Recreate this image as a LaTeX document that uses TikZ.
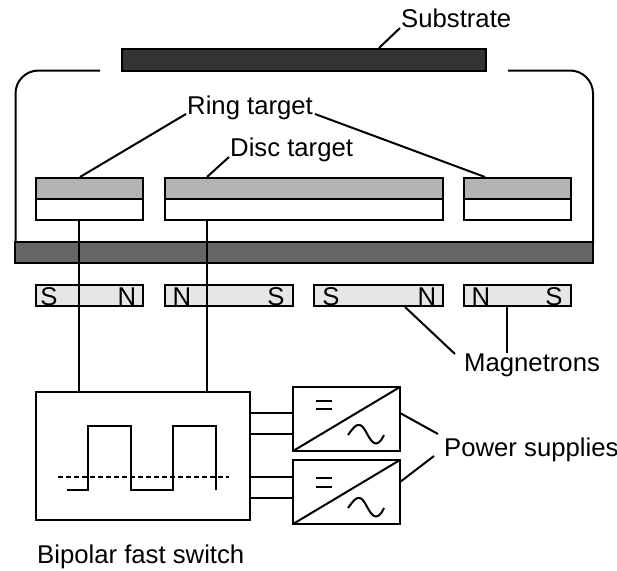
\documentclass[tikz,border=0pt]{standalone}
\usepackage{fontspec}
\setmainfont{Liberation Sans}
\definecolor{subst}{HTML}{333333}
\definecolor{basec}{HTML}{666666}
\definecolor{targ}{HTML}{B3B3B3}
\definecolor{magc}{HTML}{E6E6E6}
\tikzset{
 x=1pt,y=-1pt,
 line/.style={draw=black,line width=2pt},
 thin line/.style={draw=black,line width=2pt},
 box/.style={draw=black,line width=2pt,minimum height=0pt,inner sep=0pt,outer sep=0pt,rectangle},
 lbl/.style={font=\fontsize{25.7}{28}\selectfont,inner sep=0pt,anchor=base west,text=black},
 pole/.style={font=\fontsize{25.7}{28}\selectfont,inner sep=0pt,anchor=base,text=black},
}
\newcommand{\bx}[6]{\node[box,fill=#6,minimum width=#3-#2,minimum height=#5-#4] (#1) at ({(#2+#3)/2},{(#4+#5)/2}) {};}
\begin{document}
\begin{tikzpicture}
\useasboundingbox (0,0) rectangle (617,570);
% chamber
\coordinate (cl) at (100,70.5);
\coordinate (cr) at (508,70.5);
\coordinate (bl) at (15.5,242);
\coordinate (br) at (593,242);
\draw[thin line,rounded corners=23pt] (cl) -- (15.5,70.5) -- (bl);
\draw[thin line,rounded corners=23pt] (cr) -- (593,70.5) -- (br);
% substrate and base
\bx{substrate}{122}{486}{49}{71}{subst}
\bx{base}{15}{593}{242}{263}{basec}
% targets
\bx{t1top}{36}{143}{178}{198.5}{targ}
\bx{t1bot}{36}{143}{198.5}{220}{white}
\bx{t2top}{165}{443}{178}{198.5}{targ}
\bx{t2bot}{165}{443}{198.5}{220}{white}
\bx{t3top}{464}{571}{178}{198.5}{targ}
\bx{t3bot}{464}{571}{198.5}{220}{white}
% magnets
\bx{m1}{36}{143}{284.5}{306}{magc}
\bx{m2}{165}{293}{284.5}{306}{magc}
\bx{m3}{314}{443}{284.5}{306}{magc}
\bx{m4}{464}{571}{284.5}{306}{magc}
% poles
\node[pole] (m1s) at (49,305) {S};
\node[pole] (m1n) at (127,305) {N};
\node[pole] (m2n) at (182,305) {N};
\node[pole] (m2s) at (276,305) {S};
\node[pole] (m3s) at (331,305) {S};
\node[pole] (m3n) at (427,305) {N};
\node[pole] (m4n) at (481,305) {N};
\node[pole] (m4s) at (554,305) {S};
% switch and supplies
\bx{switch}{36}{250}{391.5}{520}{white}
\bx{ps1}{293}{400}{387}{451}{white}
\bx{ps2}{293}{400}{460}{524}{white}
% wires
\draw[thin line] (t1bot.south -| 79,0) -- (switch.north -| 79,0);
\draw[thin line] (t2bot.south -| 207.3,0) -- (switch.north -| 207.3,0);
\draw[thin line] (switch.east |- 0,413) -- (ps1.west |- 0,413);
\draw[thin line] (switch.east |- 0,434) -- (ps1.west |- 0,434);
\draw[thin line] (switch.east |- 0,477) -- (ps2.west |- 0,477);
\draw[thin line] (switch.east |- 0,498) -- (ps2.west |- 0,498);
% supply diagonals and symbols
\draw[thin line] (ps1.south west) -- (ps1.north east);
\draw[thin line] (ps2.south west) -- (ps2.north east);
\draw[line] (316,400.5) -- (332,400.5) (316,409) -- (332,409);
\draw[line] (316,478) -- (332,478) (316,487) -- (332,487);
\draw[thin line] (348,435) .. controls (353,428) and (356,424) .. (360,425) .. controls (366,427) and (369,443) .. (376,443.5) .. controls (380,443) and (382,439) .. (384,435);
\draw[thin line] (348,508) .. controls (353,501) and (356,497) .. (360,498) .. controls (366,500) and (369,516) .. (376,516.5) .. controls (380,516) and (382,512) .. (384,508);
% waveform
\draw[line] (67,490) -- (88,490) -- (88,426) -- (131,426) -- (131,490) -- (173,490) -- (173,426) -- (216,426) -- (216,490);
\draw[thin line,dash pattern=on 5pt off 3pt] (58,477) -- (229,477);
% labels
\node[lbl] (lsub) at (401,27) {Substrate};
\node[lbl] (lring) at (187,114) {Ring target};
\node[lbl] (ldisc) at (230,156) {Disc target};
\node[lbl] (lmag) at (464,371) {Magnetrons};
\node[lbl] (lpow) at (444,456) {Power supplies};
\node[lbl] (lsw) at (37,563) {Bipolar fast switch};
% leaders
\coordinate (a1) at (379,48);
\coordinate (a2) at (400,28);
\draw[line] (a1) -- (a2);
\coordinate (b1) at (186,114);
\coordinate (b2) at (80,177);
\draw[line] (b1) -- (b2);
\coordinate (c1) at (315,114);
\coordinate (c2) at (485,177);
\draw[line] (c1) -- (c2);
\coordinate (d1) at (229,157);
\coordinate (d2) at (207,177);
\draw[line] (d1) -- (d2);
\coordinate (e1) at (405,307);
\coordinate (e2) at (455,354);
\draw[line] (e1) -- (e2);
\coordinate (f1) at (507,306);
\coordinate (f2) at (507,353);
\draw[line] (f1) -- (f2);
\coordinate (g1) at (400,413);
\coordinate (g2) at (438,434);
\draw[line] (g1) -- (g2);
\coordinate (h1) at (400,482);
\coordinate (h2) at (434,456);
\draw[line] (h1) -- (h2);
\end{tikzpicture}
\end{document}
